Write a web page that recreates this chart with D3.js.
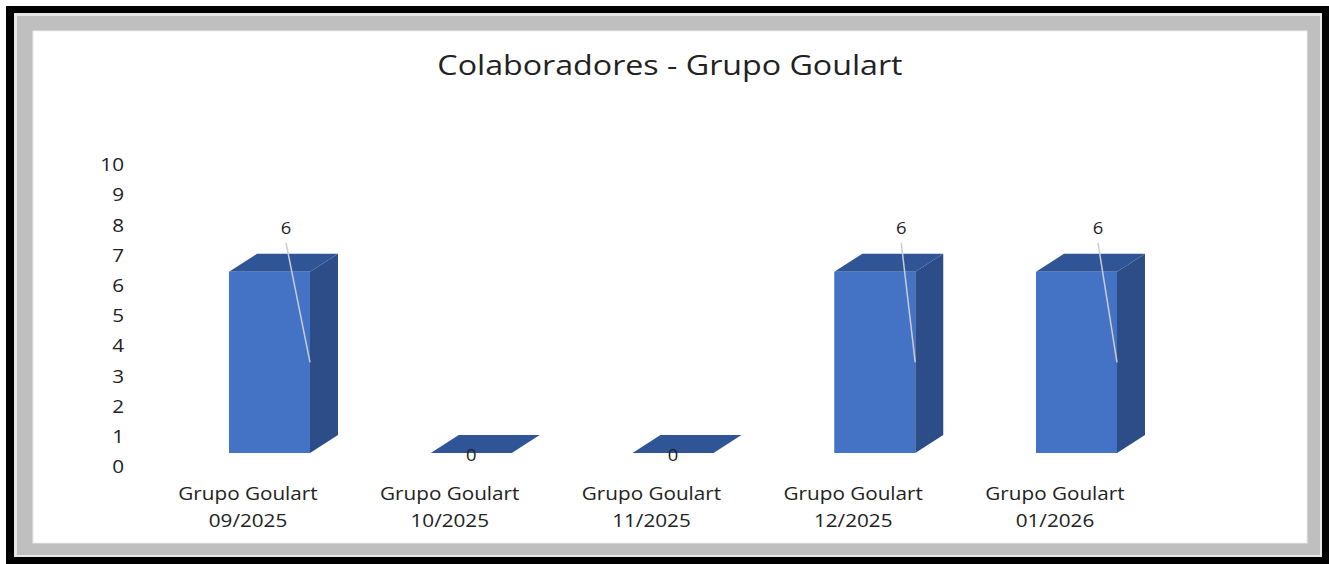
<!DOCTYPE html>
<html>
<head>
<meta charset="utf-8">
<script src="https://cdn.jsdelivr.net/npm/d3@7"></script>
<style>
  body { margin: 0; background: #fff; }
  text { font-family: "Open Sans", sans-serif; fill: #222; }
</style>
</head>
<body>
<svg id="chart" width="1329" height="564"></svg>
<script>
// data
var categories = ["Grupo Goulart 09/2025", "Grupo Goulart 10/2025", "Grupo Goulart 11/2025", "Grupo Goulart 12/2025", "Grupo Goulart 01/2026"];
var values = [6, 0, 0, 6, 6];
var yTicks = [0, 1, 2, 3, 4, 5, 6, 7, 8, 9, 10];
var title = "Colaboradores - Grupo Goulart";

// layout (label nudges are hand-placed in the original)
var labelDx = [57, 0, 0, 67, 62];
var barW = 81, depthX = 28, depthY = 18;
var stretch = 1.15; // source text looks horizontally widened

function widen(sel, cx) {
  sel.attr("transform", "translate(" + cx + ",0) scale(" + stretch + ",1) translate(" + (-cx) + ",0)");
}

var svg = d3.select("#chart");

// frame
svg.append("rect").attr("x", 6).attr("y", 6).attr("width", 1323).attr("height", 558).attr("fill", "#000");
svg.append("rect").attr("x", 14).attr("y", 13).attr("width", 1308).attr("height", 544).attr("fill", "#e6e6e6");
svg.append("rect").attr("x", 17).attr("y", 16).attr("width", 1303).attr("height", 539).attr("fill", "#bfbfbf");
svg.append("rect").attr("x", 33).attr("y", 31).attr("width", 1274).attr("height", 512).attr("fill", "#fff")
  .attr("stroke", "#ececec").attr("stroke-width", 1);

// title
svg.append("text")
  .attr("x", 670).attr("y", 75)
  .attr("text-anchor", "middle")
  .style("font-size", "28px")
  .attr("fill", "#1a1a1a")
  .text(title)
  .call(widen, 670);

var x = d3.scalePoint().domain(categories).range([248, 1055]);
var y = d3.scaleLinear().domain([0, 10]).range([453, 151]);

// y axis labels (sit a bit below the floor plane, like the original)
var yAxis = svg.append("g")
  .attr("transform", "translate(124,14)")
  .call(d3.axisLeft(y).tickValues(yTicks).tickSize(0).tickPadding(0).tickFormat(d3.format("d")));
yAxis.select(".domain").remove();
yAxis.selectAll("text")
  .style("font-size", "18px")
  .style("font-family", "'Open Sans', sans-serif")
  .attr("fill", "#222")
  .attr("transform", "scale(" + stretch + ",1)");

// bars
var bars = svg.selectAll(".bar")
  .data(values)
  .enter().append("g")
  .attr("class", "bar");

bars.each(function(v, i) {
  var g = d3.select(this);
  var x0 = x(categories[i]) - 19, x1 = x0 + barW;
  var yb = y(0), yt = y(v);
  // side
  if (v > 0) {
    g.append("path")
      .attr("d", "M" + x1 + "," + yt + "L" + (x1 + depthX) + "," + (yt - depthY) + "L" + (x1 + depthX) + "," + (yb - depthY) + "L" + x1 + "," + yb + "Z")
      .attr("fill", "#2c4d87");
  }
  // top
  g.append("path")
    .attr("d", "M" + x0 + "," + yt + "L" + (x0 + depthX) + "," + (yt - depthY) + "L" + (x1 + depthX) + "," + (yt - depthY) + "L" + x1 + "," + yt + "Z")
    .attr("fill", "#2f5597");
  // front
  if (v > 0) {
    g.append("rect")
      .attr("x", x0).attr("y", yt)
      .attr("width", barW).attr("height", yb - yt)
      .attr("fill", "#4472c4");
  }
});

// data labels
bars.each(function(v, i) {
  var g = d3.select(this);
  var x0 = x(categories[i]) - 19;
  if (v > 0) {
    var lx = x0 + labelDx[i];
    var ly = y(v) - 43;
    g.append("line")
      .attr("x1", lx).attr("y1", ly + 14)
      .attr("x2", x0 + barW).attr("y2", y(v / 2))
      .attr("stroke", "#c8ccd4").attr("stroke-width", 1.5);
    g.append("text")
      .attr("x", lx).attr("y", ly).attr("dy", "0.35em")
      .attr("text-anchor", "middle")
      .style("font-size", "16px")
      .text(v)
      .call(widen, lx);
  } else {
    var cx = x0 + barW / 2;
    g.append("text")
      .attr("x", cx).attr("y", y(0) + 2).attr("dy", "0.35em")
      .attr("text-anchor", "middle")
      .style("font-size", "16px")
      .text(v)
      .call(widen, cx);
  }
});

// category labels
svg.selectAll(".cat")
  .data(categories)
  .enter().append("text")
  .attr("class", "cat")
  .attr("text-anchor", "middle")
  .style("font-size", "18px")
  .attr("fill", "#333")
  .each(function(d) {
    var t = d3.select(this);
    var cut = d.lastIndexOf(" ");
    [d.slice(0, cut), d.slice(cut + 1)].forEach(function(p, k) {
      t.append("tspan").attr("x", x(d)).attr("y", 500 + k * 27).text(p);
    });
    widen(t, x(d));
  });
</script>
</body>
</html>
